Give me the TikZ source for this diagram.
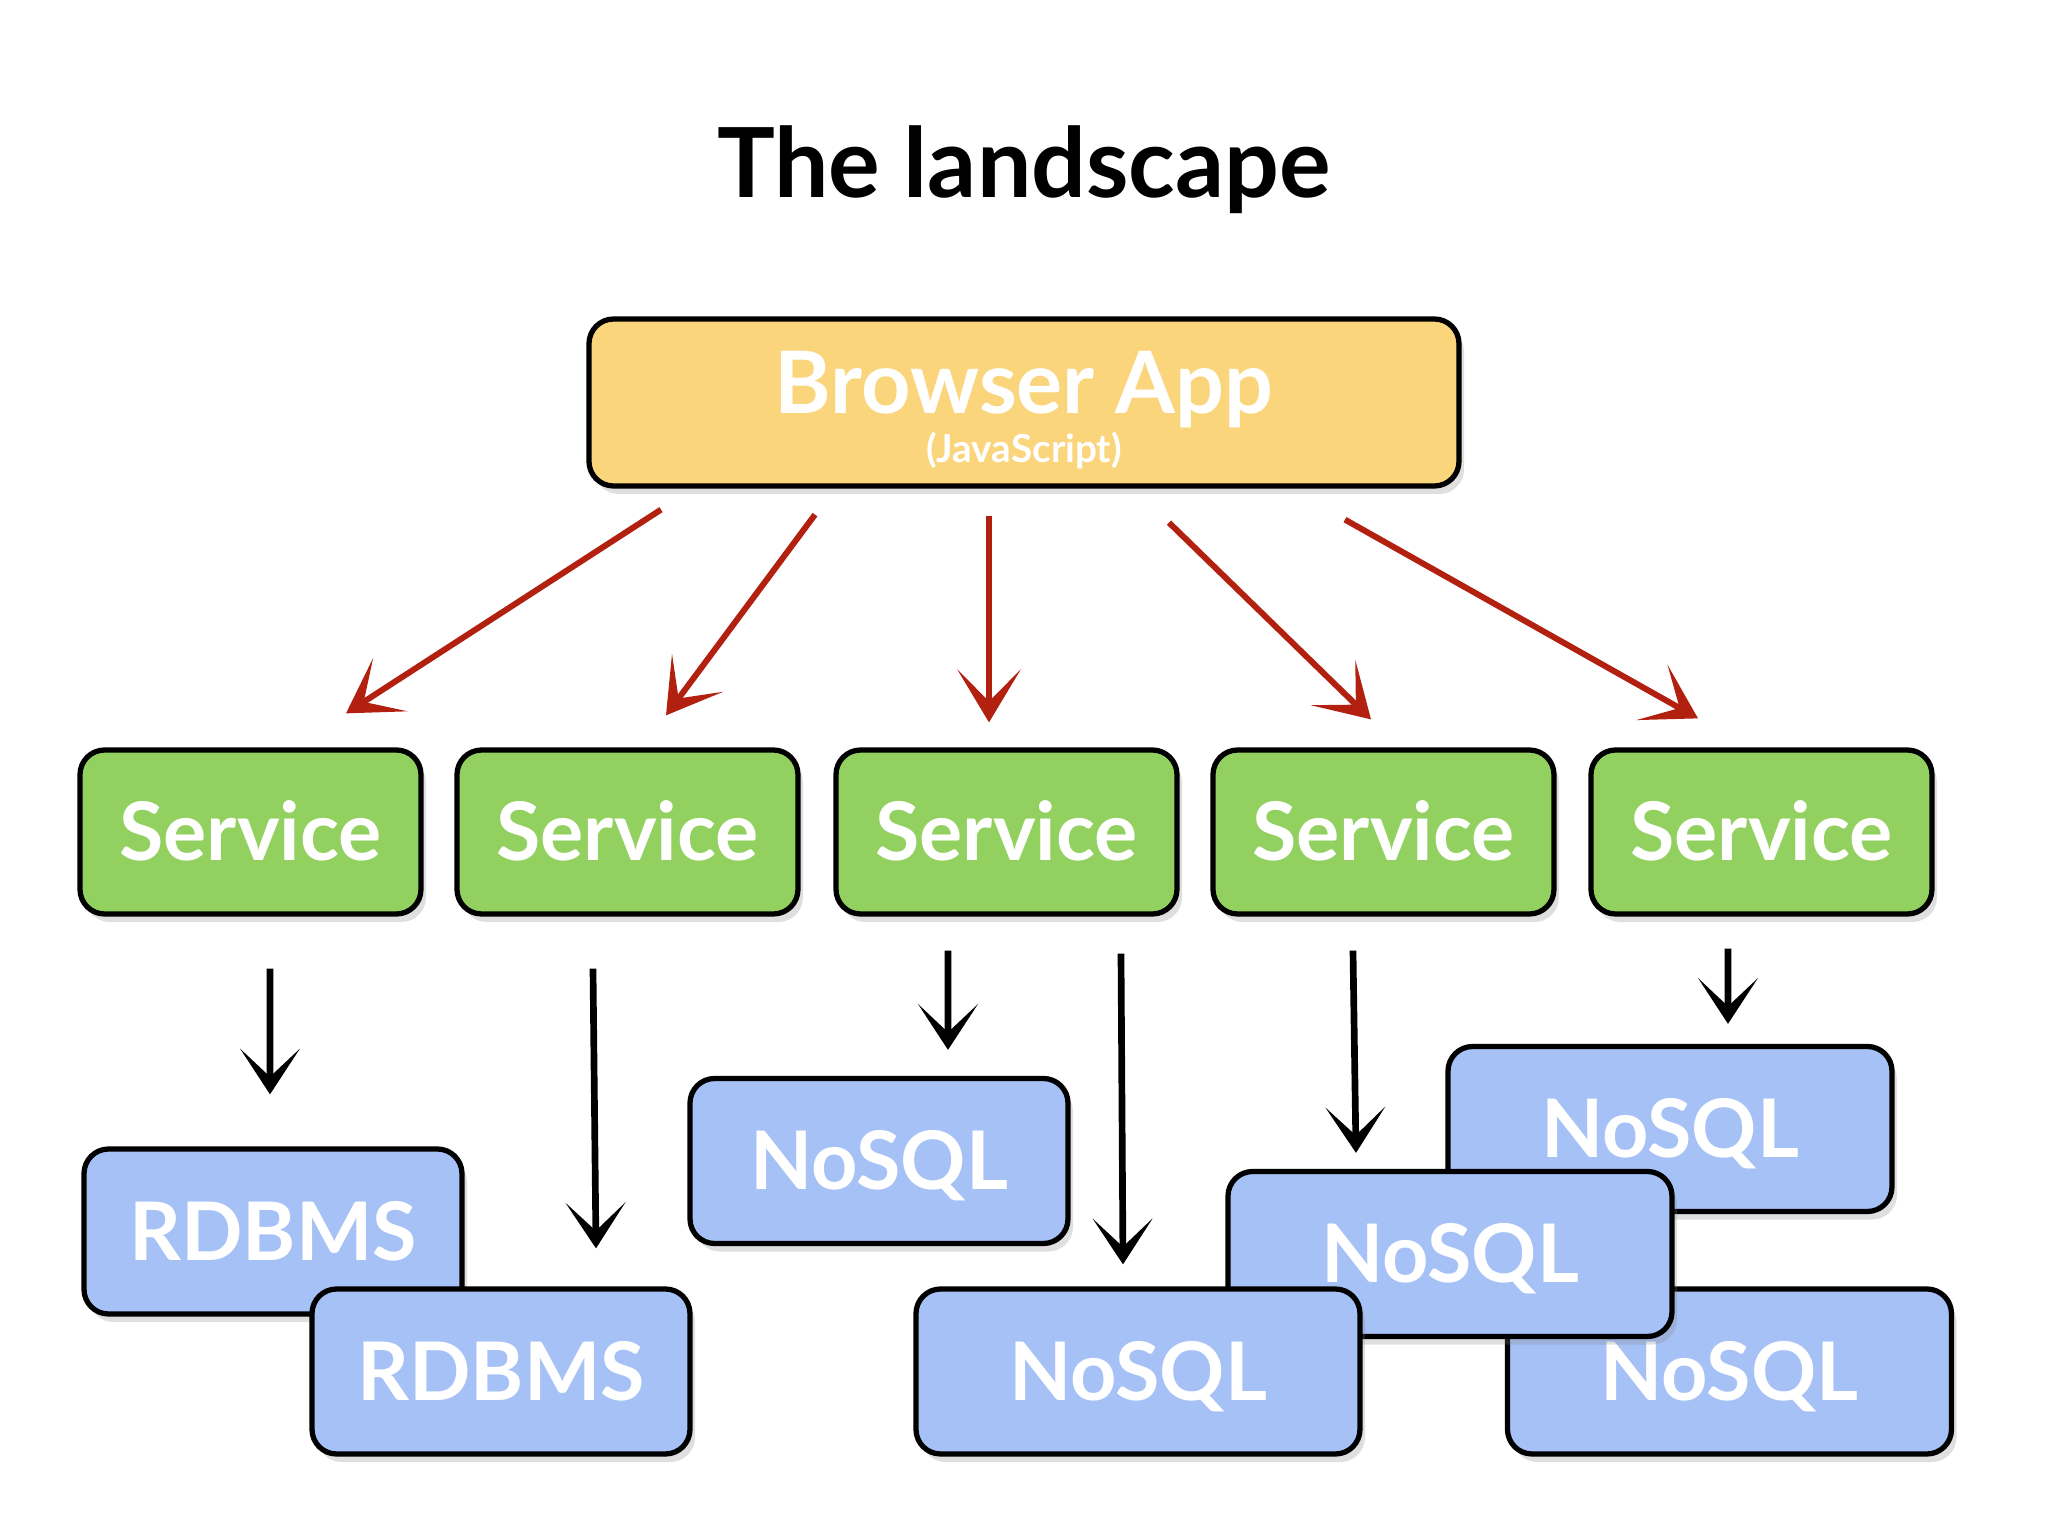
\documentclass[tikz,border=0pt]{standalone}
\usepackage{fontspec}
\setmainfont{Lato}
\usepackage{tikz}
\usetikzlibrary{positioning,calc,shadows,arrows.meta}

\definecolor{appyellow}{RGB}{250,213,124}
\definecolor{svcgreen}{RGB}{146,208,96}
\definecolor{dbblue}{RGB}{166,193,246}
\definecolor{arrred}{RGB}{178,32,16}

\begin{document}
\begin{tikzpicture}[
    box/.style={draw=black, line width=1.5pt, rounded corners=7pt, text=white, align=center,
        font=\fontsize{23}{27}\selectfont\bfseries,
        drop shadow={shadow xshift=0.05cm, shadow yshift=-0.08cm, opacity=0.25}},
    app/.style={box, fill=appyellow, minimum width=8.7cm, minimum height=1.67cm},
    svc/.style={box, fill=svcgreen, minimum width=3.41cm, minimum height=1.64cm, text height=16.5pt, text depth=0pt},
    db/.style={box, fill=dbblue, minimum height=1.65cm, text height=16.5pt, text depth=0pt},
    redarr/.style={-{Stealth[length=15pt,width=18pt,inset=9pt]}, line width=1.7pt, draw=arrred},
    blkarr/.style={-{Stealth[length=13pt,width=17pt,inset=8pt]}, line width=1.9pt}
]
    \useasboundingbox (0,0) rectangle (20.48,-15.36);

    % --- Title ---
    \node[font=\fontsize{27.5}{32}\selectfont\bfseries] (title) at (10.24,-1.70) {The landscape};

    % --- Browser app ---
    \node[app] (app) at (10.24,-4.025) {\rule{0pt}{22pt}{\fontsize{24.5}{28}\selectfont Browser App}\\[-13pt]{\fontsize{11}{13}\selectfont(JavaScript)}};

    % --- Services ---
    \node[svc] (s1) at (2.505,-8.32) {Service};
    \node[svc] (s2) at (6.275,-8.32) {Service};
    \node[svc] (s3) at (10.065,-8.32) {Service};
    \node[svc] (s4) at (13.835,-8.32) {Service};
    \node[svc] (s5) at (17.615,-8.32) {Service};

    \draw[redarr] ([shift={(-3.63,-0.21)}]app.south) -- ([shift={(0.955,0.34)}]s1.north);
    \draw[redarr] ([shift={(-2.09,-0.26)}]app.south) -- ([shift={(0.385,0.32)}]s2.north);
    \draw[redarr] ([shift={(-0.35,-0.27)}]app.south) -- ([shift={(-0.175,0.25)}]s3.north);
    \draw[redarr] ([shift={(1.45,-0.34)}]app.south) -- ([shift={(-0.125,0.28)}]s4.north);
    \draw[redarr] ([shift={(3.21,-0.31)}]app.south) -- ([shift={(-0.635,0.29)}]s5.north);

    % --- Stores ---
    \node[db, minimum width=3.78cm] (r1) at (2.73,-12.315) {RDBMS};
    \node[db, minimum width=3.78cm] (r2) at (5.01,-13.715) {RDBMS};
    \node[db, minimum width=3.78cm] (na) at (8.79,-11.61) {NoSQL};
    \node[db, minimum width=4.44cm] (nc) at (16.70,-11.29) {NoSQL};
    \node[db, minimum width=4.44cm] (ne) at (17.295,-13.715) {NoSQL};
    \node[db, minimum width=4.44cm] (nd) at (14.50,-12.54) {NoSQL};
    \node[db, minimum width=4.44cm] (nb) at (11.38,-13.715) {NoSQL};

    \draw[blkarr] ([shift={(0.195,-0.52)}]s1.south) -- ([shift={(-0.03,0.52)}]r1.north);
    \draw[blkarr] ([shift={(-0.345,-0.52)}]s2.south) -- ([shift={(0.95,0.38)}]r2.north);
    \draw[blkarr] ([shift={(-0.585,-0.34)}]s3.south) -- ([shift={(0.69,0.26)}]na.north);
    \draw[blkarr] ([shift={(1.145,-0.37)}]s3.south) -- ([shift={(-0.15,0.22)}]nb.north);
    \draw[blkarr] ([shift={(-0.305,-0.34)}]s4.south) -- ([shift={(-0.94,0.16)}]nd.north);
    \draw[blkarr] ([shift={(-0.335,-0.32)}]s5.south) -- ([shift={(0.58,0.20)}]nc.north);
\end{tikzpicture}
\end{document}
